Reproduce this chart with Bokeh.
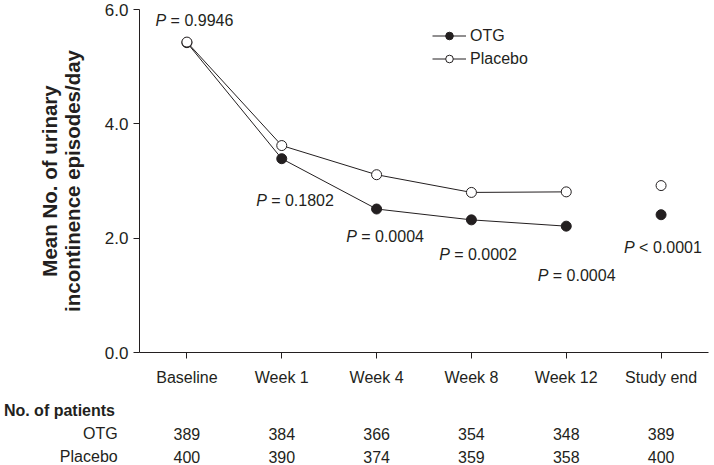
from bokeh.plotting import figure
from bokeh.layouts import column
from bokeh.models import Range1d, FixedTicker, ColumnDataSource, Legend, LegendItem
from bokeh.embed import file_html
from bokeh.resources import INLINE
from bokeh.core.properties import value

# ---------------- data ----------------
categories = ["Baseline", "Week 1", "Week 4", "Week 8", "Week 12", "Study end"]
otg_mean = [5.42, 3.39, 2.51, 2.32, 2.21, 2.41]
placebo_mean = [5.43, 3.62, 3.11, 2.80, 2.81, 2.92]
n_connected = 5  # "Study end" is not joined to the line
p_values = ["= 0.9946", "= 0.1802", "= 0.0004", "= 0.0002", "= 0.0004", "< 0.0001"]
otg_n = [389, 384, 366, 354, 348, 389]
placebo_n = [400, 390, 374, 359, 358, 400]
y_ticks = [0.0, 2.0, 4.0, 6.0]
table_title = "No. of patients"
table_rows = ["OTG", "Placebo"]

# annotation anchors (data coords: left edge, vertical middle)
p_label_x = [-0.33, 0.73, 1.68, 2.66, 3.70, 4.61]
p_label_y = [5.80, 2.66, 2.03, 1.71, 1.35, 1.84]
table_label_x = -0.73   # right edge of row names
table_title_x = -1.93   # left edge of table title

INK = "#231f20"
FONT = "Liberation Sans"
FS = "16px"

W = 714
LEFT, RIGHT, TOP = 139, 6, 9
FRAME_H = 343
BOTTOM = 44
TABLE_H = 465 - (TOP + FRAME_H + BOTTOM)

xs = list(range(len(categories)))
x_start, x_end = -0.5, len(categories) - 0.5

p = figure(width=W, height=TOP + FRAME_H + BOTTOM, output_backend="svg", toolbar_location=None,
           x_range=Range1d(x_start, x_end), y_range=Range1d(0, 6),
           min_border_left=LEFT, min_border_right=RIGHT, min_border_top=TOP, min_border_bottom=BOTTOM)
p.outline_line_color = None
p.grid.visible = False
p.frame_align = False

# axes
p.xaxis.ticker = FixedTicker(ticks=xs)
p.xaxis.major_label_overrides = {i: c for i, c in enumerate(categories)}
p.yaxis.ticker = FixedTicker(ticks=y_ticks)
p.yaxis.major_label_overrides = {t: f"{t:.1f}" for t in y_ticks}
for ax in (p.xaxis, p.yaxis):
    ax.axis_line_color = INK
    ax.axis_line_width = 1
    ax.major_tick_line_color = INK
    ax.major_tick_in = 0
    ax.major_tick_out = 6
    ax.minor_tick_line_color = None
    ax.major_label_text_font = FONT
    ax.major_label_text_font_size = FS
    ax.major_label_text_color = INK
p.yaxis.major_label_text_font_size = "17px"
p.xaxis.major_label_standoff = 10
p.yaxis.major_label_standoff = 5
p.yaxis.axis_label = "Mean No. of urinary\nincontinence episodes/day"
p.yaxis.axis_label_text_font = FONT
p.yaxis.axis_label_text_font_size = "20.5px"
p.yaxis.axis_label_text_font_style = "bold"
p.yaxis.axis_label_text_color = INK
p.yaxis.axis_label_text_line_height = 1.0
p.yaxis.axis_label_standoff = 18

# series
otg_line = p.line(xs[:n_connected], otg_mean[:n_connected], line_color=INK, line_width=1)
pla_line = p.line(xs[:n_connected], placebo_mean[:n_connected], line_color=INK, line_width=1)
otg_pts = p.scatter(xs, otg_mean, marker="circle", size=10, fill_color=INK, line_color=INK, line_width=1)
pla_pts = p.scatter(xs, placebo_mean, marker="circle", size=10, fill_color="white", line_color=INK, line_width=1)

# P-values
psrc = ColumnDataSource(dict(x=p_label_x, y=p_label_y, rest=p_values, P=["P"] * len(p_values)))
p.text(x="x", y="y", text="P", source=psrc, text_font=value(FONT), text_font_size=FS,
       text_font_style="italic", text_color=INK, text_baseline="middle", text_align="left")
p.text(x="x", y="y", text="rest", source=psrc, text_font=value(FONT), text_font_size=FS,
       text_color=INK, text_baseline="middle", text_align="left", x_offset=15)

# legend
legend = Legend(items=[LegendItem(label="OTG", renderers=[otg_line, otg_pts]),
                       LegendItem(label="Placebo", renderers=[pla_line, pla_pts])],
                location=(293, 284), orientation="vertical",
                glyph_width=34, glyph_height=19, spacing=4, label_standoff=4,
                padding=0, margin=0, border_line_color=None, background_fill_alpha=0,
                label_text_font=FONT, label_text_font_size=FS, label_text_color=INK,
                label_height=19)
p.add_layout(legend, "center")

# ---------------- patient table (same x scale as the chart) ----------------
px_per_unit = (W - LEFT - RIGHT) / (x_end - x_start)
t = figure(width=W, height=TABLE_H, output_backend="svg", toolbar_location=None,
           x_range=Range1d(x_start - LEFT / px_per_unit, x_end + RIGHT / px_per_unit),
           y_range=Range1d(2.0 + 9 / 23, -14 / 23),
           min_border_left=0, min_border_right=0, min_border_top=0, min_border_bottom=0)
t.outline_line_color = None
t.grid.visible = False
t.axis.visible = False
t.frame_align = False

t.text(x=[table_title_x], y=[0], text=[table_title], text_font=value(FONT), text_font_size=FS,
       text_font_style="bold", text_color=INK, text_baseline="middle", text_align="left")
t.text(x=[table_label_x] * len(table_rows), y=[1, 2], text=table_rows, text_font=value(FONT),
       text_font_size=FS, text_color=INK, text_baseline="middle", text_align="right")
for row_i, counts in ((1, otg_n), (2, placebo_n)):
    src = ColumnDataSource(dict(x=xs, y=[row_i] * len(xs), t=[str(c) for c in counts]))
    t.text(x="x", y="y", text="t", source=src, text_font=value(FONT), text_font_size=FS,
           text_color=INK, text_baseline="middle", text_align="center")

layout = column(p, t, spacing=0)
open("out.html", "w").write(file_html(layout, INLINE))
